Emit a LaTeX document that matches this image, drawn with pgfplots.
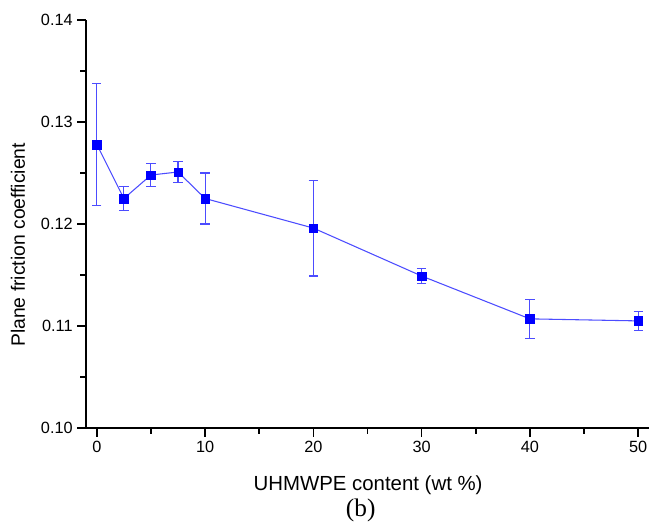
\documentclass[border=0pt]{standalone}
\usepackage{pgfplots}
\pgfplotsset{compat=1.18}
\usepackage{fontspec}
\setmainfont{Liberation Sans}
\newfontfamily\timesfont{Liberation Serif}

\definecolor{lineblue}{rgb}{0.3,0.3,1}

\begin{document}
\begin{tikzpicture}
% 1 px of the reference = 0.75pt
\useasboundingbox (-64.5pt,-75pt) rectangle (422.25pt,321pt);
\begin{axis}[
  at={(0,0)}, anchor=south west,
  scale only axis, width=422.25pt, height=306pt,
  xmin=-1, xmax=51, ymin=0.10, ymax=0.14,
  axis lines=left,
  axis line style={-, line width=1.1pt},
  tick align=outside,
  major tick length=6.5pt, minor tick length=4.3pt,
  every tick/.style={black, line width=1.1pt},
  xtick={0,10,...,50}, minor x tick num=1,
  ytick={0.10,0.11,0.12,0.13,0.14}, minor y tick num=1,
  /pgf/number format/assume math mode=true,
  yticklabel style={/pgf/number format/.cd, fixed, fixed zerofill, precision=2},
  tick label style={font=\fontsize{12.2}{14}\selectfont},
  xlabel={UHMWPE content (wt \%)},
  ylabel={Plane friction coefficient},
  xlabel style={font=\fontsize{15.3}{18}\selectfont, at={(axis description cs:0.501,-0.140)}, anchor=center},
  ylabel style={font=\fontsize{14.5}{17}\selectfont, at={(axis description cs:-0.121,0.449)}, anchor=center},
  clip=false,
]
\addplot[color=lineblue, line width=0.8pt,
  mark=square*, mark size=3.2pt,
  mark options={draw=blue, fill=blue, line width=0.3pt},
  error bars/.cd, y dir=both, y explicit,
  error bar style={color=lineblue, line width=0.8pt},
  error mark options={color=lineblue, line width=0.8pt, mark size=3.5pt, rotate=90}]
  coordinates {
  (0,   0.1278) +- (0, 0.0060)
  (2.5, 0.1225) +- (0, 0.0012)
  (5,   0.1248) +- (0, 0.0011)
  (7.5, 0.1251) +- (0, 0.0010)
  (10,  0.1225) +- (0, 0.0025)
  (20,  0.1196) +- (0, 0.0047)
  (30,  0.1149) +- (0, 0.00075)
  (40,  0.1107) +- (0, 0.0019)
  (50,  0.1105) +- (0, 0.0009)
  };
\node[font=\timesfont\fontsize{19}{22}\selectfont] at (axis description cs:0.488,-0.201) {(b)};
\end{axis}
\end{tikzpicture}
\end{document}
